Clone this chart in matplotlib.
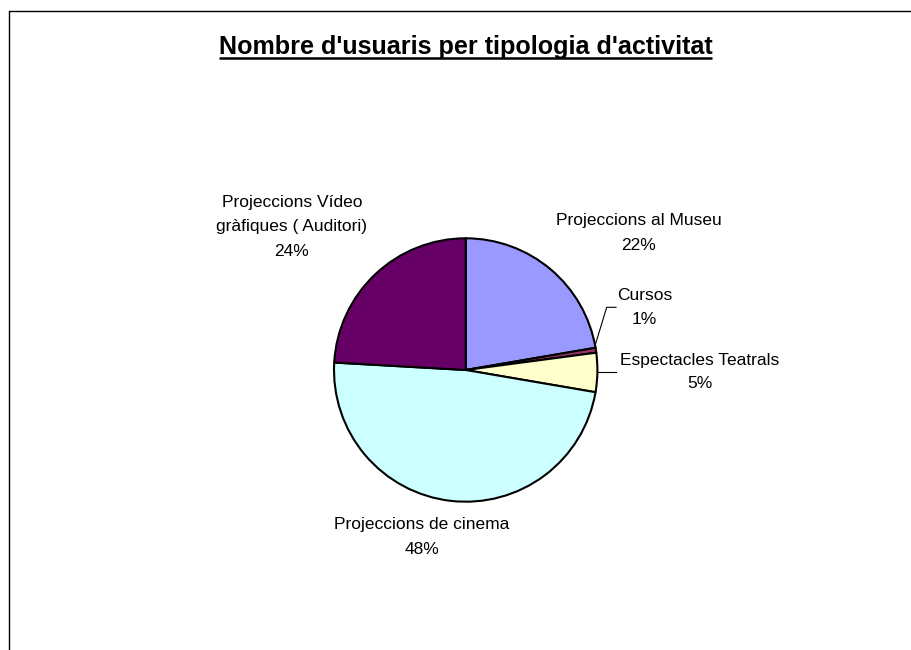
import matplotlib
matplotlib.use("Agg")
import matplotlib.pyplot as plt
from matplotlib import font_manager

categories = ["Projeccions al Museu", "Cursos", "Espectacles Teatrals",
              "Projeccions de cinema", "Projeccions Vídeo\ngràfiques ( Auditori)"]
values = [22.3, 0.6, 4.8, 48.2, 24.1]
colors = ["#9999FF", "#993366", "#FFFFCC", "#CCFFFF", "#660066"]
title = "Nombre d'usuaris per tipologia d'activitat"

W, H = 912, 650
plt.rcParams["font.family"] = ["Liberation Sans", "DejaVu Sans"]

# the reference text is a bit tall and narrow: use the narrow face if it exists
installed = {f.name for f in font_manager.fontManager.ttflist}
if "Liberation Sans Narrow" in installed:
    label_font, label_size, label_ls = ["Liberation Sans Narrow", "DejaVu Sans"], 15.2, 1.32
else:
    label_font, label_size, label_ls = ["Liberation Sans", "DejaVu Sans"], 12.5, 1.75

fig = plt.figure(figsize=(W / 100, H / 100), dpi=100)
ax = fig.add_axes([0, 0, 1, 1])

# pie in pixel units (y up)
cx, cy, r = 465.7, H - 370, 131.7
ax.pie(values, colors=colors, startangle=90, counterclock=False,
       center=(cx, cy), radius=r,
       wedgeprops=dict(edgecolor="black", linewidth=1.5))
ax.set_xlim(0, W)
ax.set_ylim(0, H)
ax.set_aspect("equal")
ax.axis("off")

total = sum(values)
# label positions (pixels from top-left)
label_pos = [(639, 233), (644.5, 308), (700, 372), (422, 537), (292, 227)]
for name, v, (x, y) in zip(categories, values, label_pos):
    ax.text(x, H - y, f"{name}\n{round(v / total * 100)}%", ha="center", va="center",
            fontsize=label_size, linespacing=label_ls, family=label_font)

# leader lines
ax.plot([595, 606.7, 616], [H - 345.7, H - 307.3, H - 307.3], color="black", lw=0.8)
ax.plot([598.3, 616], [H - 372.3, H - 372.3], color="black", lw=0.8)

# chart area border (top + left)
ax.plot([8.7, 8.7, W + 5], [-5, H - 11, H - 11], color="black", lw=1.0, clip_on=False)

# title with underline
t = ax.text(465.5, H - 54.3, title, ha="center", va="baseline",
            fontsize=18.1, fontweight="bold")
fig.canvas.draw()
bb = t.get_window_extent(renderer=fig.canvas.get_renderer())
ax.plot([bb.x0, bb.x1], [H - 57.5, H - 57.5], color="black", lw=1.8,
        solid_capstyle="butt")

fig.savefig("out.png", dpi=100)
